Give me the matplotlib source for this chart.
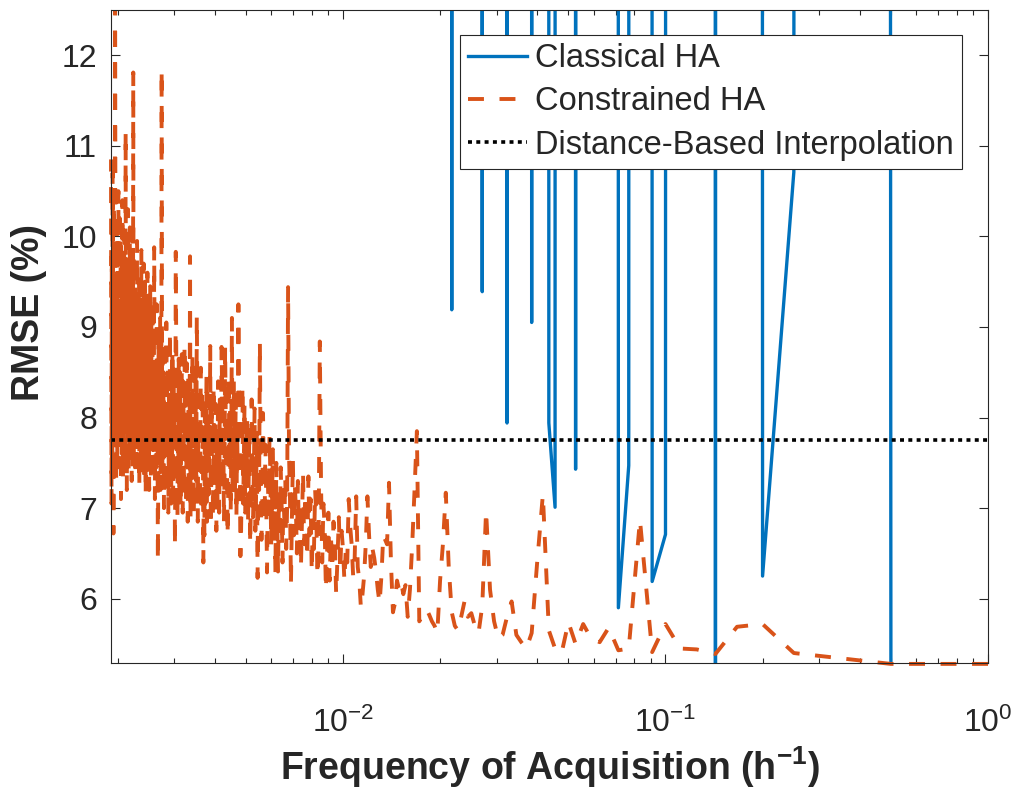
import numpy as np
import matplotlib
matplotlib.use('Agg')
import matplotlib.pyplot as plt
from matplotlib.ticker import NullFormatter, LogLocator
from matplotlib.transforms import Bbox, TransformedBbox

plt.rcParams['font.family'] = ['Liberation Sans', 'DejaVu Sans']
plt.rcParams['mathtext.fontset'] = 'custom'
plt.rcParams['mathtext.rm'] = 'Liberation Sans'
plt.rcParams['mathtext.bf'] = 'Liberation Sans:bold'
plt.rcParams['axes.unicode_minus'] = False

# sampling interval k (hours) -> acquisition frequency 1/k
intervals = np.arange(1, 525)
freq = 1.0 / intervals

# constrained HA, RMSE (%) for k = 1..524
rmse_constrained = [
    5.28, 5.28, 5.35, 5.40, 5.72, 5.69, 5.39, 5.44, 5.45, 5.72,
    5.41, 6.87, 5.45, 5.43, 5.68, 5.52, 5.56, 5.72, 5.50, 5.74,
    5.40, 5.45, 5.65, 7.15, 6.40, 5.62, 5.45, 5.52, 5.60, 5.97,
    5.80, 5.60, 5.56, 5.75, 6.10, 6.97, 5.92, 5.62, 5.70, 5.84,
    5.80, 5.97, 5.80, 5.65, 5.70, 5.85, 6.35, 7.17, 6.60, 6.20,
    5.62, 5.70, 5.75, 5.82, 5.88, 5.85, 5.80, 5.75, 7.85, 7.20,
    6.60, 6.10, 5.80, 6.15, 6.05, 6.18, 6.10, 6.20, 5.95, 5.85,
    6.40, 7.28, 6.60, 6.65, 6.70, 6.25, 5.95, 6.10, 6.30, 6.45,
    6.55, 6.35, 6.70, 7.13, 6.60, 6.25, 6.05, 5.90, 6.20, 6.35,
    7.13, 6.45, 6.25, 6.60, 6.80, 7.10, 6.40, 6.55, 6.20, 6.55,
    6.75, 6.30, 6.90, 6.45, 6.05, 6.60, 6.85, 6.35, 6.70, 6.20,
    6.95, 6.50, 6.10, 6.80, 7.05, 6.40, 7.30, 8.84, 6.60, 6.25,
    6.90, 7.20, 6.55, 6.85, 6.30, 7.10, 6.70, 7.35, 6.45, 6.95,
    7.15, 6.60, 7.40, 6.85, 6.35, 7.05, 6.75, 7.30, 6.50, 7.00,
    7.25, 6.70, 7.55, 6.90, 6.16, 7.10, 7.60, 9.44, 7.00, 6.55,
    7.35, 6.85, 7.20, 6.40, 7.05, 7.45, 6.75, 7.15, 6.30, 6.95,
    7.50, 6.28, 7.25, 6.80, 7.65, 7.05, 6.60, 7.40, 7.80, 6.95,
    7.30, 6.29, 7.10, 7.70, 6.85, 7.45, 8.05, 7.00, 6.65, 7.55,
    8.83, 7.20, 7.60, 6.23, 7.85, 7.15, 6.75, 8.10, 7.35, 6.90,
    7.65, 8.20, 7.05, 6.60, 7.90, 7.40, 6.85, 8.00, 7.25, 7.70,
    6.95, 8.15, 7.50, 7.05, 8.35, 7.30, 6.75, 6.47, 7.60, 8.05,
    9.25, 7.40, 7.85, 6.90, 8.25, 7.55, 7.10, 8.40, 7.75, 7.20,
    9.10, 7.65, 6.95, 8.10, 7.45, 8.45, 7.15, 6.70, 7.90, 7.50,
    8.05, 8.78, 7.35, 6.85, 7.95, 7.60, 8.30, 8.78, 7.20, 7.70,
    8.20, 6.95, 7.55, 8.40, 7.10, 7.85, 6.75, 8.15, 7.45, 7.90,
    7.25, 8.35, 6.90, 7.70, 8.05, 7.35, 6.80, 8.79, 7.60, 7.95,
    7.15, 8.25, 7.50, 6.85, 8.45, 7.80, 7.05, 8.10, 6.70, 7.65,
    6.40, 7.90, 8.30, 7.20, 6.95, 8.55, 7.55, 7.00, 8.20, 7.45,
    7.85, 6.85, 8.40, 9.12, 7.30, 7.75, 8.60, 7.10, 7.95, 6.95,
    8.25, 7.50, 8.70, 7.15, 7.80, 8.35, 6.90, 9.78, 7.60, 8.05,
    7.25, 8.45, 6.85, 7.90, 8.60, 7.40, 7.05, 8.25, 7.70, 8.80,
    7.15, 7.95, 8.40, 6.95, 7.65, 8.70, 7.35, 8.15, 7.00, 8.50,
    7.80, 7.20, 8.65, 7.45, 8.05, 6.90, 8.35, 7.60, 8.90, 9.83,
    7.55, 6.58, 8.20, 7.75, 8.55, 7.10, 7.95, 8.75, 7.35, 8.10,
    7.05, 8.45, 7.70, 8.95, 7.30, 8.25, 7.55, 6.95, 8.60, 7.85,
    8.35, 7.15, 9.05, 7.60, 8.15, 7.35, 8.70, 7.90, 7.00, 8.50,
    7.75, 8.85, 7.40, 8.30, 11.84, 7.85, 8.55, 7.20, 9.10, 7.65,
    8.40, 7.50, 8.95, 7.25, 6.42, 8.20, 7.80, 9.25, 7.45, 8.65,
    7.70, 8.35, 7.10, 8.90, 9.88, 7.55, 8.45, 7.95, 9.30, 7.40,
    8.60, 7.85, 9.15, 7.30, 8.25, 9.45, 7.65, 8.80, 7.20, 8.50,
    9.20, 7.75, 8.35, 9.60, 7.45, 8.70, 7.95, 9.35, 7.15, 8.55,
    9.50, 7.90, 8.25, 7.35, 9.70, 8.10, 8.85, 7.60, 9.25, 7.80,
    8.65, 9.85, 7.40, 8.45, 9.10, 7.70, 8.95, 7.25, 9.55, 8.30,
    7.85, 9.40, 8.15, 7.50, 9.95, 8.60, 7.65, 9.20, 8.00, 7.35,
    9.65, 8.40, 7.95, 9.30, 7.55, 8.75, 11.81, 8.20, 7.45, 9.50,
    8.05, 7.30, 9.80, 8.50, 7.70, 9.15, 8.25, 10.10, 7.60, 8.85,
    9.45, 7.40, 8.60, 10.30, 7.85, 9.05, 8.35, 7.20, 9.75, 8.10,
    8.70, 11.16, 7.95, 9.40, 7.50, 8.90, 10.05, 7.75, 8.45, 9.60,
    7.35, 8.80, 10.40, 8.15, 7.60, 9.25, 8.55, 7.10, 9.90, 8.30,
    7.80, 10.20, 8.65, 7.45, 9.35, 8.10, 10.50, 7.90, 8.75, 9.70,
    7.55, 8.95, 10.15, 8.20, 7.30, 9.55, 8.40, 10.60, 13.20, 8.05,
    9.10, 7.70, 10.35, 8.50, 6.72, 9.45, 8.15, 10.70, 7.40, 8.90,
    9.80, 7.05, 8.60, 10.85,
]

# classical HA for k = 1..50; HI stands for runs that blow up far above the axis
HI = 1000.0
rmse_classical = [
    5.10, 5.10, HI, 10.71, 6.25, HI, 5.20, HI, HI, 6.71,
    6.19, HI, 7.47, 5.90, HI, HI, HI, HI, 7.43, HI,
    HI, 7.01, 7.94, HI, HI, 9.05, HI, HI, HI, HI,
    7.94, HI, HI, HI, HI, HI, 9.39, HI, HI, HI,
    HI, HI, HI, HI, HI, 9.19, HI, HI, HI, HI,
]

# distance-based interpolation does not depend on the frequency
rmse_distance = 7.75

c_blue = '#0072BD'
c_orange = '#D95319'
c_axis = '#262626'

fig = plt.figure(figsize=(10.12, 7.93), dpi=100)
ax = fig.add_axes([111 / 1012, 130 / 793, 877 / 1012, 653 / 793])

ax.plot(freq[:len(rmse_classical)], rmse_classical, color=c_blue, lw=2.4,
        label='Classical HA')
l_con, = ax.plot(freq, rmse_constrained, color=c_orange, lw=2.8,
                 dashes=(4.1, 4.0), label='Constrained HA')
ax.axhline(rmse_distance, color='black', lw=2.6, dashes=(1.1, 1.2),
           label='Distance-Based Interpolation')

ax.set_xscale('log')
ax.set_xlim(1 / 524, 1)
ax.set_ylim(5.29, 12.5)

# let the thick dashed line spill a little over the left/bottom edges
l_con.set_clip_box(TransformedBbox(Bbox([[-0.005, -0.008], [1, 1]]), ax.transAxes))

ax.set_yticks(range(6, 13))
ax.xaxis.set_major_locator(LogLocator(base=10))
ax.xaxis.set_minor_locator(LogLocator(base=10, subs=np.arange(2, 10)))
ax.xaxis.set_minor_formatter(NullFormatter())

ax.tick_params(which='both', direction='in', top=True, right=True,
               colors=c_axis, width=0.8, labelsize=23)
ax.tick_params(which='major', length=6.5)
ax.tick_params(which='minor', length=3.5)
ax.tick_params(axis='y', pad=10)
ax.tick_params(axis='x', pad=32)
for sp in ax.spines.values():
    sp.set_color(c_axis)
    sp.set_linewidth(0.8)

ax.set_xlabel('Frequency of Acquisition (h$^{\\mathbf{-1}}$)', fontsize=27,
              fontweight='bold', color=c_axis, labelpad=4)
ax.set_ylabel('RMSE (%)', fontsize=27, fontweight='bold', color=c_axis)
ax.yaxis.set_label_coords(-0.073, 0.536)

leg = ax.legend(loc='upper right', bbox_to_anchor=(0.970, 0.962), fontsize=23.5,
                frameon=True, fancybox=False, edgecolor=c_axis, framealpha=1,
                borderaxespad=0, handlelength=1.8, handletextpad=0.25,
                labelspacing=0.38, borderpad=0.25)
leg.get_frame().set_linewidth(0.8)
for t in leg.get_texts():
    t.set_color(c_axis)

fig.savefig('out.png', dpi=100, facecolor='white')
